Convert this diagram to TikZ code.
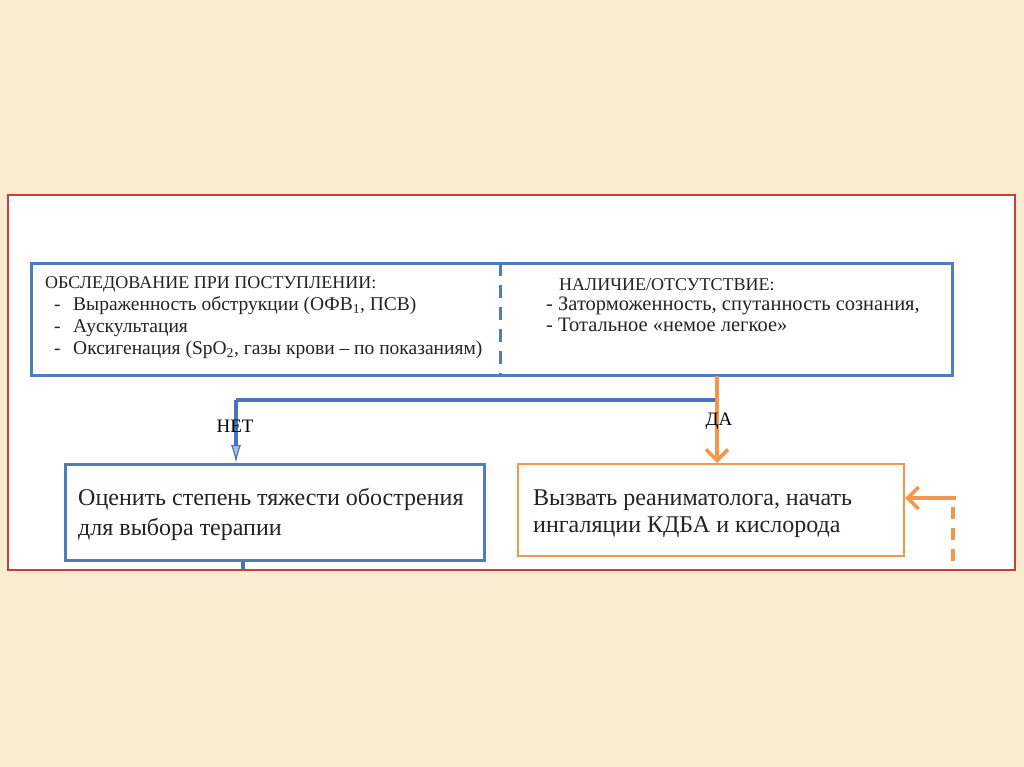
\documentclass[tikz,border=0pt]{standalone}
\usepackage{fontspec}
\setmainfont{Liberation Serif}
\usetikzlibrary{arrows.meta}
\definecolor{bg}{RGB}{249,237,208}
\definecolor{panelred}{RGB}{205,60,60}
\definecolor{boxblue}{RGB}{79,125,185}
\definecolor{lineblue}{RGB}{70,115,185}
\definecolor{orng}{RGB}{244,150,75}
\definecolor{txt}{RGB}{35,35,35}
\tikzset{
  txthead/.style={anchor=base west, inner sep=0pt, text=txt, font=\fontsize{18}{21}\selectfont},
  txtline/.style={anchor=base west, inner sep=0pt, text=txt, font=\fontsize{19.5}{22}\selectfont},
  txtlineR/.style={anchor=base west, inner sep=0pt, text=txt, font=\fontsize{20.5}{23}\selectfont},
  txtbig/.style={anchor=base west, inner sep=0pt, text=txt, font=\fontsize{24}{28}\selectfont},
  lbl/.style={anchor=base, inner sep=0pt, text=black, font=\fontsize{19}{22}\selectfont},
  bluebox/.style={draw=boxblue, line width=3pt, fill=white},
  orangebox/.style={draw=orng, line width=2.4pt, fill=white},
  blueline/.style={draw=lineblue, line width=3.6pt},
  bluearrow/.style={blueline, -{Latex[length=18pt, width=10pt, line width=1.2pt, fill=lineblue!45]}},
  orangearrow/.style={draw=orng, line width=4pt, -{Straight Barb[length=11pt, width=22pt, line width=3.6pt]}},
}
\begin{document}
\begin{tikzpicture}[x=1pt,y=-1pt]
\useasboundingbox (0,0) rectangle (1024,767);
\fill[bg] (0,0) rectangle (1024,767);
% panel
\draw[panelred, line width=1.5pt, fill=white] (8,195) rectangle (1015,570);
% top box
\draw[bluebox] (31,263) rectangle (952,375);
\coordinate (divt) at (500,263);
\coordinate (divb) at (500,375);
\draw[boxblue, line width=3pt, dash pattern=on 13pt off 9pt] (divt) -- (divb);
% left texts
\node[txthead] (l1) at (45,288) {ОБСЛЕДОВАНИЕ ПРИ ПОСТУПЛЕНИИ:};
\node[txtline] (b1) at (54,310) {-};
\node[txtline] (l2) at (73,310) {Выраженность обструкции (ОФВ\textsubscript{1}, ПСВ)};
\node[txtline] (b2) at (54,332) {-};
\node[txtline] (l3) at (73,332) {Аускультация};
\node[txtline] (b3) at (54,354) {-};
\node[txtline] (l4) at (73,354) {Оксигенация (SpO\textsubscript{2}, газы крови – по показаниям)};
% right texts
\node[txthead] (r1) at (559,290) {НАЛИЧИЕ/ОТСУТСТВИЕ:};
\node[txtlineR] (r2) at (546,310) {- Заторможенность, спутанность сознания,};
\node[txtlineR] (r3) at (546,331) {- Тотальное «немое легкое»};
% lower boxes
\draw[bluebox] (65,464) rectangle (484,560);
\coordinate (bluetop) at (236,463);
\draw[orangebox] (518,464) rectangle (904,556);
\coordinate (orangetop) at (717,463);
\coordinate (orangeright) at (905,498);
\node[txtbig] (t1) at (78,505) {Оценить степень тяжести обострения};
\node[txtbig] (t2) at (78,535) {для выбора терапии};
\node[txtbig] (t3) at (533,505) {Вызвать реаниматолога, начать};
\node[txtbig] (t4) at (533,532) {ингаляции КДБА и кислорода};
% connectors
\coordinate (split) at (717,376);
\coordinate (bend) at (717,400);
\coordinate (corner) at (236,400);
\draw[blueline] (bend) -- (corner);
\draw[bluearrow] (corner) -- (bluetop);
\draw[orangearrow] (split) -- (orangetop);
\node[lbl] (net) at (235,432) {НЕТ};
\node[lbl] (da) at (719,425) {ДА};
% continuation below blue box
\coordinate (bluebot) at (243,561);
\coordinate (bluecut) at (243,569);
\draw[blueline] (bluebot) -- (bluecut);
% orange feedback
\coordinate (fbk) at (956,498);
\coordinate (fbkstart) at (953,507);
\coordinate (fbkcut) at (953,569);
\draw[orangearrow] (fbk) -- (orangeright);
\draw[orng, line width=3.6pt, dash pattern=on 12pt off 9pt] (fbkstart) -- (fbkcut);
\end{tikzpicture}
\end{document}
